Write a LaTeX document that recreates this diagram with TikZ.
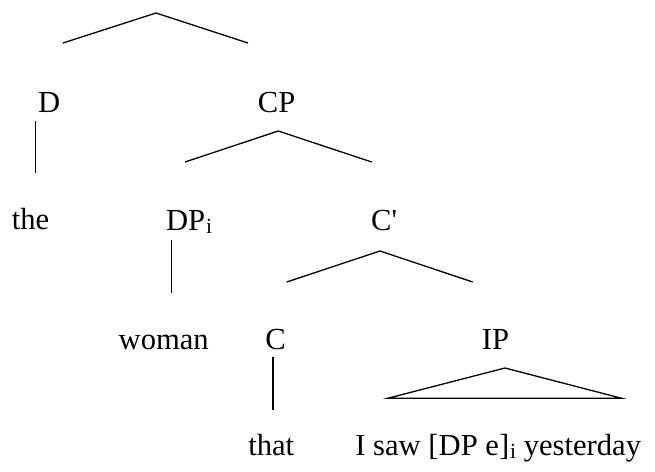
\documentclass[tikz,border=0pt]{standalone}
\usepackage{fontspec}
\setmainfont{Liberation Serif}
\newcommand{\lowi}{\kern0.5pt\raisebox{-1.8pt}{\fontsize{10.8}{12}\selectfont i}}
\begin{document}
\begin{tikzpicture}[x=0.5pt,y=-0.5pt,
  lbl/.style={inner sep=0pt, font=\fontsize{15.3}{18}\selectfont},
  edge/.style={line width=0.65pt, line join=miter, black}]
\useasboundingbox (0,0) rectangle (655,472);
% labels
\node[lbl,anchor=base] (D) at (49.2,112) {D};
\node[lbl,anchor=base] (CP) at (276.7,112) {CP};
\node[lbl,anchor=base] (the) at (30.5,229) {the};
\node[lbl,anchor=base west] (DP) at (165.7,230) {DP\lowi};
\node[lbl,anchor=base] (Cbar) at (384.2,230) {C\textquotesingle};
\node[lbl,anchor=base] (woman) at (163.7,349) {woman};
\node[lbl,anchor=base] (C) at (275.7,349) {C};
\node[lbl,anchor=base] (IP) at (495.5,349) {IP};
\node[lbl,anchor=base] (that) at (271.3,455) {that};
\node[lbl,anchor=base west] (ip) at (355,455) {I saw [DP e]\lowi{} yesterday};
% branch points
\coordinate (r) at (156,13);
\coordinate (rL) at (63,43);
\coordinate (rR) at (248,43);
\coordinate (dT) at (35.7,121);
\coordinate (dB) at (35.7,173);
\coordinate (cp) at (278.3,131);
\coordinate (cpL) at (185,162);
\coordinate (cpR) at (371.7,162);
\coordinate (dpT) at (171.7,240);
\coordinate (dpB) at (171.7,293);
\coordinate (cb) at (380,251);
\coordinate (cbL) at (286.7,282);
\coordinate (cbR) at (472.7,282);
\coordinate (cT) at (273,357);
\coordinate (cB) at (273,410);
\coordinate (ipA) at (505,368);
\coordinate (ipL) at (387.7,398.3);
\coordinate (ipR) at (621.7,398.3);
% connectors
\draw[edge] (rL) -- (r) -- (rR);
\draw[edge] (dT) -- (dB);
\draw[edge] (cpL) -- (cp) -- (cpR);
\draw[edge] (dpT) -- (dpB);
\draw[edge] (cbL) -- (cb) -- (cbR);
\draw[edge] (cT) -- (cB);
\draw[edge] (ipA) -- (ipL) -- (ipR) -- cycle;
\end{tikzpicture}
\end{document}
